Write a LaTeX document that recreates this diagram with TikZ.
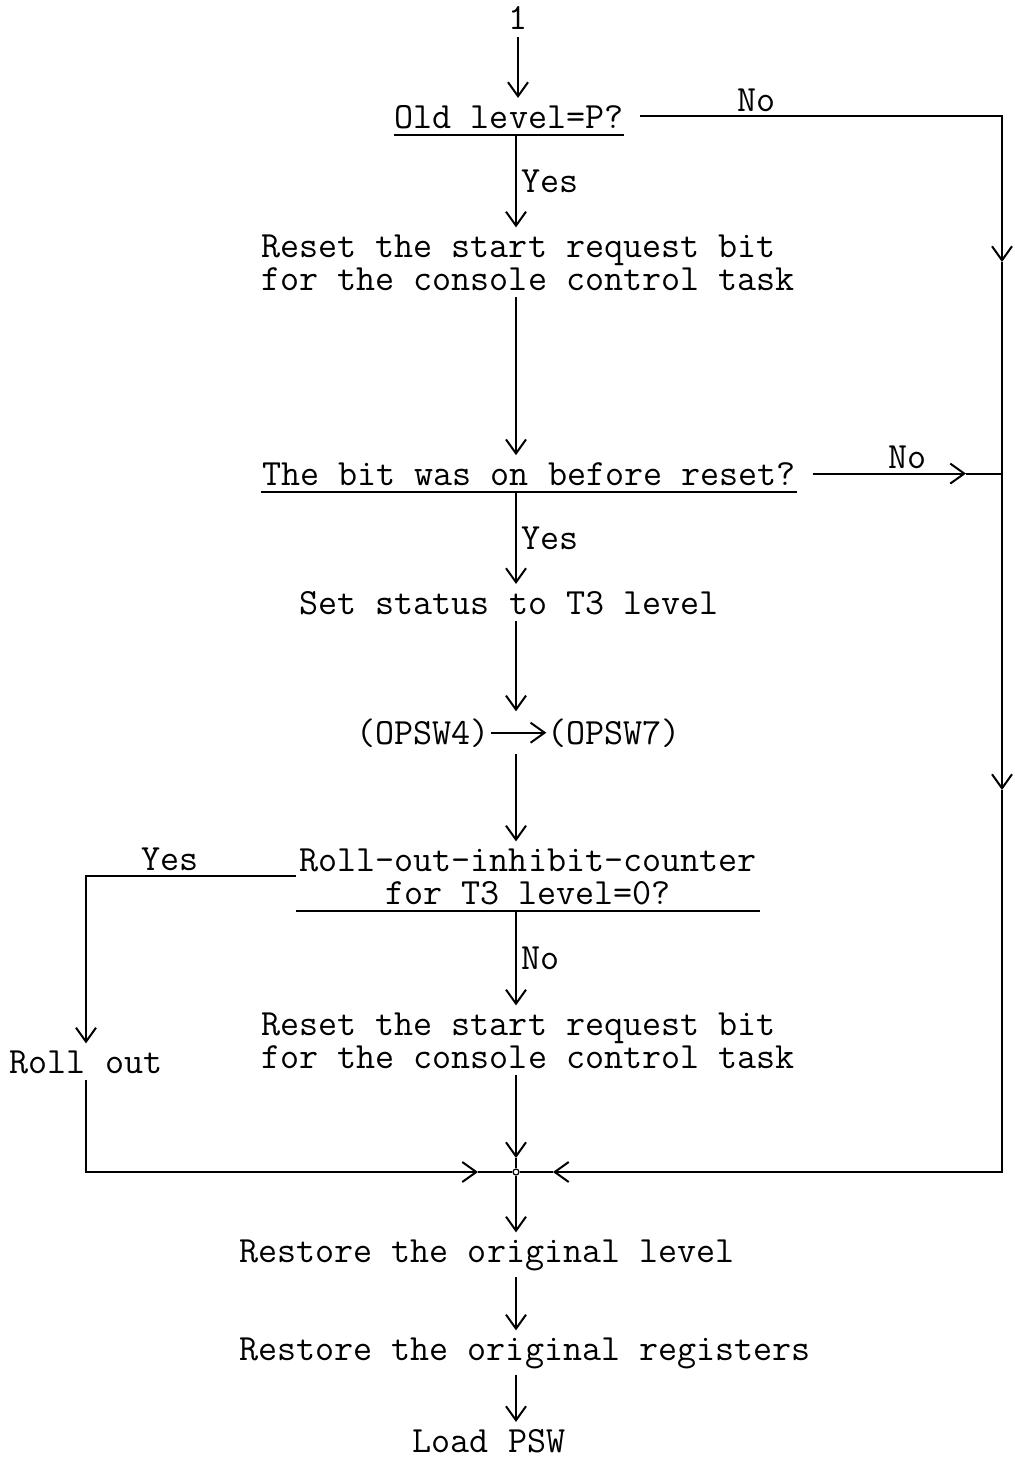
\documentclass[tikz,border=0pt]{standalone}
\usepackage{fontspec}
\usepackage{tikz}
\usetikzlibrary{positioning,arrows.meta}

\begin{document}
\begin{tikzpicture}[x=0.5pt, y=-0.5pt, line width=1pt,
    >={Straight Barb[length=7pt,width=10pt]},
    txt/.style={
    inner xsep=0pt,
    inner ysep=3pt,
    anchor=base,
    font=\ttfamily\fontsize{18.5}{16.5}\selectfont},
    query/.style={txt, text depth=0pt},
    lbl/.style={txt, inner sep=2pt}]
    \useasboundingbox (0,0) rectangle (1014,1461);

    \coordinate (Col) at (516,0);

    \node [txt] (Start) at (518,30) {1};
    \node [query] (OldLevel) at (509,128) {Old level=P?};
    \node [txt, align=left] (Reset1) at (528,290) {Reset the start request bit\\for the console control task};
    \node [query] (BitOn) at (529,485) {The bit was on before reset?};
    \node [txt] (SetT3) at (509,614) {Set status to T3 level};
    \node [txt] (Opsw4) at (423,744) {(OPSW4)};
    \node [txt] (Opsw7) at (614,744) {(OPSW7)};
    \node [query, align=center] (Inhibit) at (528,904) {Roll-out-inhibit-counter\\for T3 level=0?};
    \node [txt] (RollOut) at (86,1073) {Roll out};
    \node [txt, align=left] (Reset2) at (528,1068) {Reset the start request bit\\for the console control task};
    \node [txt] (RestLevel) at (487,1262) {Restore the original level};
    \node [txt] (RestRegs) at (525,1360) {Restore the original registers};
    \node [txt] (LoadPSW) at (489,1452) {Load PSW};

    \node [draw, circle, inner sep=0pt, minimum size=3pt, line width=0.6pt] (Join) at (516,1172) {};

    % right hand return line
    \coordinate (NE) at (OldLevel.east -| 1002,0);
    \coordinate (R1) at (1002,262);
    \coordinate (R2) at (1002,790);
    \coordinate (SE) at (1002,1172);
    \coordinate (JoinL) at (478,1172);
    \coordinate (JoinR) at (553,1172);
    \coordinate (JoinT) at (516,1158);
    \coordinate (NoTip) at (BitOn.east -| 966,0);

    % underlines of the questions
    \draw (OldLevel.south west) -- (OldLevel.south east);
    \draw (BitOn.south west) -- (BitOn.south east);
    \draw ([xshift=-1pt]Inhibit.south west) -- ([xshift=1pt]Inhibit.south east);

    \draw[->] (Start.south -| Start) -- (OldLevel.north -| Start);
    \draw[->] (OldLevel.south -| Col) -- node[lbl, right] {Yes} (Reset1.north -| Col);
    \draw[->] (Reset1.south -| Col) -- (BitOn.north -| Col);
    \draw[->] (BitOn.south -| Col) -- node[lbl, right] {Yes} (SetT3.north -| Col);
    \draw[->] (SetT3.south -| Col) -- (Opsw4.north -| Col);
    \draw[->] (Opsw4.east) -- (Opsw7.west);
    \draw[->] (Opsw4.south -| Col) -- (Inhibit.north -| Col);
    \draw[->] (Inhibit.south -| Col) -- node[lbl, right] {No} (Reset2.north -| Col);
    \draw[->] ([xshift=-1pt]Inhibit.west) -- node[lbl, above, pos=0.6] {Yes} (Inhibit.west -| RollOut) -- (RollOut.north);

    \draw[->] ([xshift=8pt]OldLevel.east) -- node[lbl, above, pos=0.32] {No} (NE) -- (R1);
    \draw[->] (R1) -- (R2);
    \draw[->] (R2) -- (SE) -- (JoinR);
    \draw (JoinR) -- (Join.east);
    \draw[->] ([xshift=8pt]BitOn.east) -- node[lbl, above, pos=0.62] {No} (NoTip);
    \draw (NoTip) -- (BitOn.east -| R1);

    \draw[->] (Reset2.south -| Col) -- (JoinT);
    \draw (JoinT) -- (Join.north);
    \draw[->] (RollOut.south) -- (RollOut.south |- Join) -- (JoinL);
    \draw (JoinL) -- (Join.west);

    \draw[->] (Join.south) -- (RestLevel.north -| Col);
    \draw[->] (RestLevel.south -| Col) -- (RestRegs.north -| Col);
    \draw[->] (RestRegs.south -| Col) -- (LoadPSW.north -| Col);
\end{tikzpicture}
\end{document}
